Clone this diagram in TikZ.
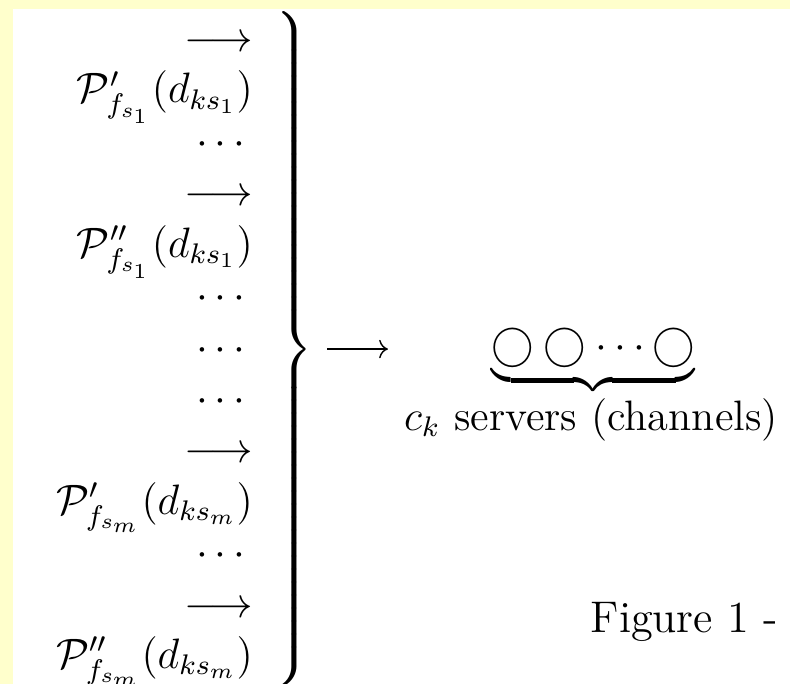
\documentclass[12pt,tikz,border=0pt]{standalone}
\usepackage{amsmath,amssymb}
\usepackage{graphicx}
\usepackage{xcolor}
\usepackage{tikz}
\usetikzlibrary{arrows.meta}
\definecolor{notecolor}{HTML}{FFFFCC}

\begin{document}
\begin{tikzpicture}[
    entry/.style={anchor=base east, inner sep=0pt},
    bare/.style={inner sep=0pt},
    arrow/.style={-{Computer Modern Rightarrow}}
]
\useasboundingbox (0,0) rectangle (7.832,-6.781);
\fill[notecolor] (0,0) rectangle (7.832,-6.781);
\fill[white] (0.129,-0.089) rectangle (7.832,-6.781);
% incoming flows
\node[entry] (arr1) at (2.513,-0.511) {$\longrightarrow$};
\node[entry] (flow1a) at (2.513,-1.020) {$\mathcal{P}'_{f_{s_1}}(d_{ks_1})$};
\node[entry] (dots1) at (2.513,-1.530) {$\cdots$};
\node[entry] (arr2) at (2.513,-2.040) {$\longrightarrow$};
\node[entry] (flow1b) at (2.513,-2.549) {$\mathcal{P}''_{f_{s_1}}(d_{ks_1})$};
\node[entry] (dots2) at (2.513,-3.059) {$\cdots$};
\node[entry] (dots3) at (2.513,-3.569) {$\cdots$};
\node[entry] (dots4) at (2.513,-4.078) {$\cdots$};
\node[entry] (arr3) at (2.513,-4.588) {$\longrightarrow$};
\node[entry] (flowma) at (2.513,-5.097) {$\mathcal{P}'_{f_{s_m}}(d_{ks_m})$};
\node[entry] (dots5) at (2.513,-5.607) {$\cdots$};
\node[entry] (arr4) at (2.513,-6.117) {$\longrightarrow$};
\node[entry] (flowmb) at (2.513,-6.626) {$\mathcal{P}''_{f_{s_m}}(d_{ks_m})$};
% brace and servers
\node[bare, anchor=east] (brace) at (3.113,-3.460) {\scalebox{1}[1.018]{$\delimitershortfall=0pt\left.\vcenter{\hbox{\rule{0pt}{186pt}}}\right\}$}};
\node[bare, anchor=base west] (servers) at (4.865,-3.555) {$\underbrace{\bigcirc\bigcirc\cdots\bigcirc}$};
\draw[arrow, shorten <=3.7pt, shorten >=29pt] (brace.east) -- (brace.east -| servers.west);
\node[bare, anchor=base] (channels) at (5.859,-4.263) {$c_k$ servers (channels)};
\node[bare, anchor=base west] (caption) at (5.849,-6.266) {\fontsize{12.5pt}{15pt}\selectfont Figure 1 -};
\end{tikzpicture}
\end{document}
